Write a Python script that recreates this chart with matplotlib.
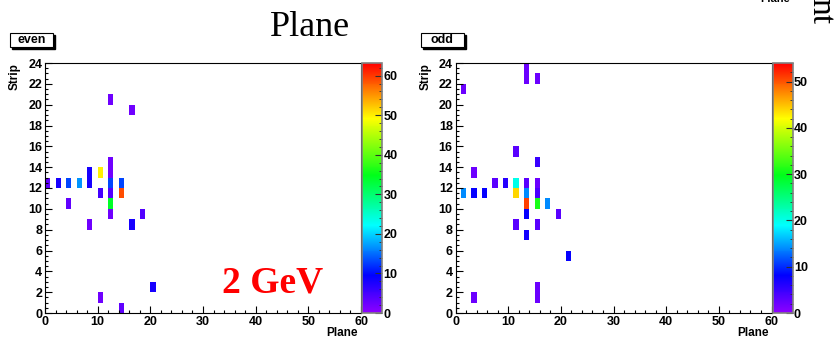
import numpy as np
import matplotlib.pyplot as plt
from matplotlib.colors import LinearSegmentedColormap
from matplotlib.ticker import MultipleLocator
from matplotlib.patches import Rectangle

# hits per (plane, strip)
even_plane = [0, 2, 4, 6, 8, 8, 10, 10, 12, 12, 12, 12, 12, 12, 12, 14, 14, 14, 4, 8, 16, 16, 18, 20, 10]
even_strip = [12, 12, 12, 12, 12, 13, 13, 11, 14, 13, 12, 11, 10, 9, 20, 12, 11, 0, 10, 8, 19, 8, 9, 2, 1]
even_val = [3, 8, 13, 17, 8, 8, 50, 5, 2, 2, 13, 4, 34, 2, 2, 13, 59, 3, 3, 2, 2, 8, 4, 8, 2]

odd_plane = [1, 1, 3, 3, 3, 5, 7, 9, 11, 11, 11, 11, 13, 13, 13, 13, 13, 13, 13,
             15, 15, 15, 15, 15, 15, 15, 15, 17, 19, 21]
odd_strip = [21, 11, 13, 11, 1, 11, 12, 12, 15, 12, 11, 8, 23, 22, 12, 11, 10, 9, 7,
             22, 14, 12, 11, 10, 8, 2, 1, 10, 9, 5]
odd_val = [2, 14, 2, 8, 2, 8, 3, 6, 3, 20, 44, 3, 2, 2, 3, 14, 51, 8, 7,
           2, 5, 2, 4, 31, 3, 2, 2, 14, 3, 8]

even_zmax = 63.2
odd_zmax = 54.0

root_pal = LinearSegmentedColormap.from_list("root", [
    (0.0, (0.55, 0.0, 1.0)),
    (0.15, (0.0, 0.0, 1.0)),
    (0.35, (0.0, 1.0, 1.0)),
    (0.55, (0.0, 1.0, 0.1)),
    (0.78, (1.0, 1.0, 0.0)),
    (1.0, (1.0, 0.0, 0.0)),
])

plt.rcParams['font.family'] = ['Liberation Sans', 'DejaVu Sans']
plt.rcParams['font.weight'] = 'bold'

W, H = 838, 338
fig = plt.figure(figsize=(W / 100, H / 100), dpi=100)


def fx(px):
    return px / W


def fy(py):
    return 1 - py / H


def panel(x0, xs, ys, vals, zmax, name, cstep):
    ax = fig.add_axes([fx(x0), fy(313), fx(316), 250 / H])
    cax = fig.add_axes([fx(x0 + 317), fy(313), fx(20), 250 / H])
    h, xe, ye = np.histogram2d(xs, ys, bins=[60, 24], range=[[0, 60], [0, 24]], weights=vals)
    h = np.ma.masked_equal(h, 0)
    m = ax.pcolormesh(xe, ye, h.T, cmap=root_pal, vmin=0, vmax=zmax)
    ax.set_xlim(0, 60)
    ax.set_ylim(0, 24)
    ax.xaxis.set_major_locator(MultipleLocator(10))
    ax.xaxis.set_minor_locator(MultipleLocator(2))
    ax.yaxis.set_major_locator(MultipleLocator(2))
    ax.yaxis.set_minor_locator(MultipleLocator(0.5))
    ax.tick_params(which='both', direction='in', top=False, right=False, labelsize=9, pad=2)
    ax.tick_params(which='major', length=5, width=0.8)
    ax.tick_params(which='minor', length=2.5, width=0.8)
    for s in ax.spines.values():
        s.set_linewidth(0.8)
    ax.text(0.99, -0.054, 'Plane', transform=ax.transAxes, ha='right', va='top', fontsize=8.5, fontweight='bold')
    ax.text(-0.095, 1.0, 'Strip', transform=ax.transAxes, ha='center', va='top', rotation=90,
            fontsize=8.5, fontweight='bold')

    cb = fig.colorbar(m, cax=cax)
    cb.outline.set_edgecolor('#808080')
    cb.outline.set_linewidth(1.2)
    cax.yaxis.set_major_locator(MultipleLocator(10))
    cax.yaxis.set_minor_locator(MultipleLocator(cstep))
    cax.tick_params(which='both', direction='in', labelsize=9, pad=1, color='#303030')
    cax.tick_params(which='major', length=5)
    cax.tick_params(which='minor', length=2.5)

    # ROOT style title pave with shadow
    bx = x0 - 35
    fig.patches.append(Rectangle((fx(bx + 2), fy(49)), fx(43), 14 / H, transform=fig.transFigure,
                                 facecolor='black', edgecolor='black'))
    fig.patches.append(Rectangle((fx(bx), fy(47)), fx(43), 14 / H, transform=fig.transFigure,
                                 facecolor='white', edgecolor='black', linewidth=0.8))
    fig.text(fx(bx + 21.5), fy(40), name, ha='center', va='center', fontsize=9, fontweight='bold')
    return ax


ax_even = panel(45, even_plane, even_strip, even_val, even_zmax, 'even', 2)
ax_odd = panel(455.5, odd_plane, odd_strip, odd_val, odd_zmax, 'odd', 2)

ax_even.text(33.6, 2.0, '2 GeV', color='#ff0000', fontsize=27, fontweight='bold',
             family='Liberation Serif', ha='left', va='baseline')

fig.text(fx(310), fy(36), 'Plane', fontsize=26, fontweight='normal', family='Liberation Serif',
         ha='center', va='baseline')
fig.text(fx(775), fy(2), 'Plane', fontsize=8, fontweight='bold', ha='center', va='baseline')
fig.text(fx(820), fy(-2), 'nt', fontsize=24, fontweight='normal', family='Liberation Serif',
         ha='center', va='top', rotation=270)

fig.savefig('out.png', dpi=100)
